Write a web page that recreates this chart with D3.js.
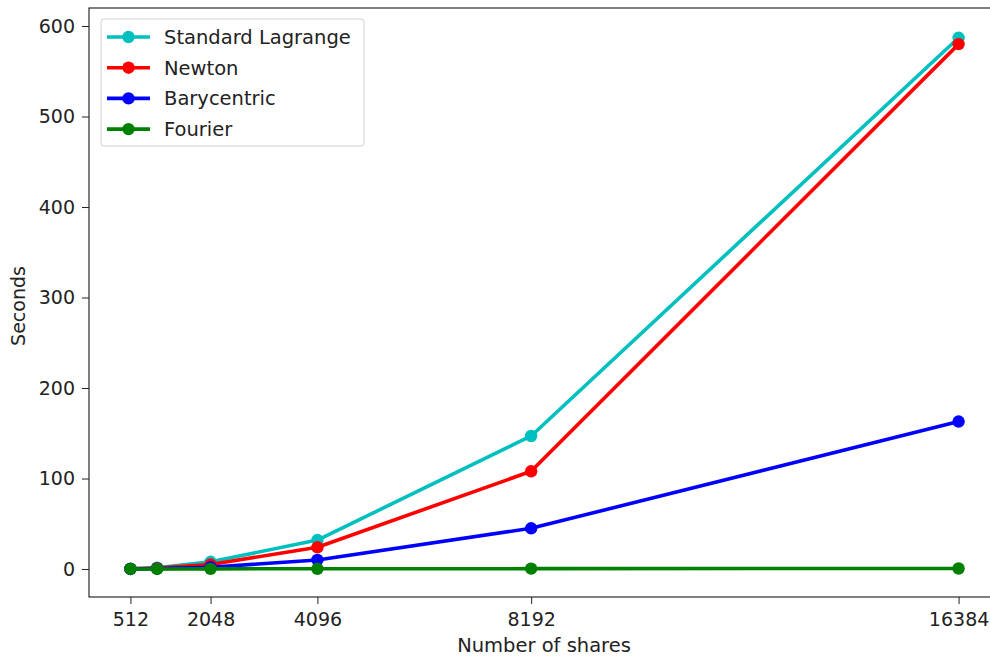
<!DOCTYPE html>
<html>
<head>
<meta charset="utf-8">
<script src="https://cdn.jsdelivr.net/npm/d3@7"></script>
<style>
  body { margin: 0; background: #fff; }
  svg { display: block; font-family: "DejaVu Sans", sans-serif; }
</style>
</head>
<body>
<div id="chart"></div>
<script>
// data
const shares = [512, 1024, 2048, 4096, 8192, 16384];
const xTicks = [512, 2048, 4096, 8192, 16384];
const yTicks = [0, 100, 200, 300, 400, 500, 600];

const lagrange = [0.3, 1.5, 8, 32, 147, 587];
const newton = [0.2, 1.0, 5, 24, 108, 580];
const barycentric = [0.1, 0.5, 2, 10, 45, 163];
const fourier = [0.05, 0.1, 0.2, 0.3, 0.4, 0.6];

const seriesNames = ["Standard Lagrange", "Newton", "Barycentric", "Fourier"];
const seriesColors = ["#00bfbf", "#ff0000", "#0000ff", "#008000"];
const seriesValues = [lagrange, newton, barycentric, fourier];

const width = 990, height = 658;
const margin = { top: 8, right: -10, bottom: 61, left: 89 };
const fontSize = "19px";

const svg = d3.select("#chart").append("svg")
    .attr("width", width)
    .attr("height", height);

// matplotlib-style 5% padding around the data
const x = d3.scaleLinear()
    .domain([512 - 0.05 * (16384 - 512), 16384 + 0.05 * (16384 - 512)])
    .range([margin.left, width - margin.right]);

const y = d3.scaleLinear()
    .domain([-30.9, 619.9])
    .range([height - margin.bottom, margin.top]);

// frame
svg.append("rect")
    .attr("x", margin.left)
    .attr("y", margin.top)
    .attr("width", width - margin.right - margin.left)
    .attr("height", height - margin.bottom - margin.top)
    .attr("fill", "none")
    .attr("stroke", "#000")
    .attr("stroke-width", 1);

const xAxis = svg.append("g")
    .attr("transform", `translate(0,${height - margin.bottom})`)
    .call(d3.axisBottom(x).tickValues(xTicks).tickFormat(d3.format("d")).tickSize(7).tickPadding(9));
xAxis.select(".domain").remove();

const yAxis = svg.append("g")
    .attr("transform", `translate(${margin.left},0)`)
    .call(d3.axisLeft(y).tickValues(yTicks).tickSize(7).tickPadding(7));
yAxis.select(".domain").remove();

svg.selectAll(".tick text")
    .style("font-size", fontSize)
    .style("font-family", "DejaVu Sans, sans-serif")
    .attr("fill", "#222");
svg.selectAll(".tick line").attr("stroke", "#222");

svg.append("text")
    .attr("x", 544)
    .attr("y", 652)
    .attr("text-anchor", "middle")
    .style("font-size", "19.5px")
    .attr("fill", "#222")
    .text("Number of shares");

svg.append("text")
    .attr("transform", `translate(25,306) rotate(-90)`)
    .attr("text-anchor", "middle")
    .style("font-size", fontSize)
    .attr("fill", "#222")
    .text("Seconds");

const line = d3.line()
    .x((d, i) => x(shares[i]))
    .y(d => y(d));

const plot = svg.append("g");

seriesValues.forEach((vals, k) => {
    const g = plot.append("g");
    g.append("path")
        .datum(vals)
        .attr("d", line)
        .attr("fill", "none")
        .attr("stroke", seriesColors[k])
        .attr("stroke-width", 3.6)
        .attr("stroke-linejoin", "round");
    g.selectAll("circle")
        .data(vals)
        .enter()
        .append("circle")
        .attr("cx", (d, i) => x(shares[i]))
        .attr("cy", d => y(d))
        .attr("r", 6.2)
        .attr("fill", seriesColors[k]);
});

// legend
const legend = svg.append("g").attr("transform", "translate(101,19)");
legend.append("rect")
    .attr("width", 263)
    .attr("height", 127)
    .attr("rx", 3)
    .attr("fill", "#fff")
    .attr("fill-opacity", 0.8)
    .attr("stroke", "#d0d0d0");

seriesNames.forEach((name, i) => {
    const yy = 18 + i * 30.7;
    legend.append("line")
        .attr("x1", 6).attr("x2", 49)
        .attr("y1", yy).attr("y2", yy)
        .attr("stroke", seriesColors[i])
        .attr("stroke-width", 3.6);
    legend.append("circle")
        .attr("cx", 27.5).attr("cy", yy).attr("r", 6.2)
        .attr("fill", seriesColors[i]);
    legend.append("text")
        .attr("x", 63)
        .attr("y", yy)
        .attr("dy", "0.35em")
        .style("font-size", "19.5px")
        .attr("fill", "#222")
        .text(name);
});
</script>
</body>
</html>
